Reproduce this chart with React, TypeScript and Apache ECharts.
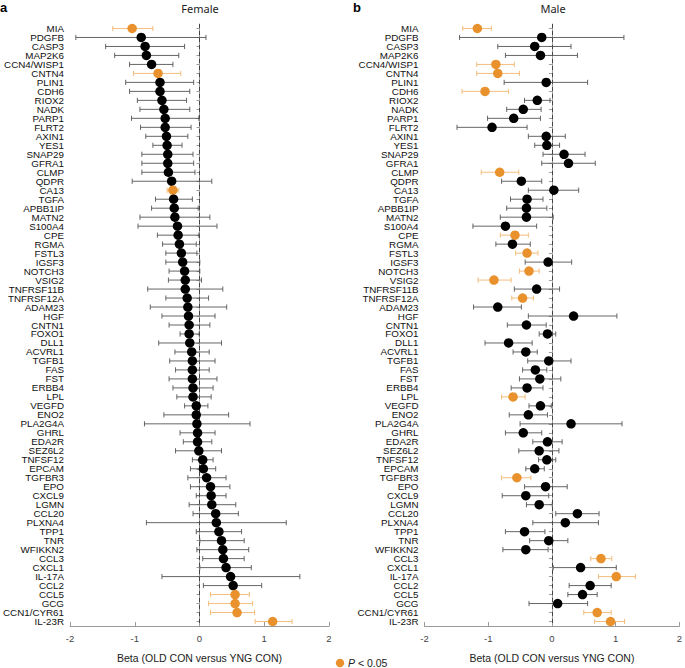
import React, { useEffect, useRef } from "react";
import * as echarts from "echarts";

const genes = [
  "MIA", "PDGFB", "CASP3", "MAP2K6", "CCN4/WISP1", "CNTN4", "PLIN1", "CDH6", "RIOX2", "NADK",
  "PARP1", "FLRT2", "AXIN1", "YES1", "SNAP29", "GFRA1", "CLMP", "QDPR", "CA13", "TGFA",
  "APBB1IP", "MATN2", "S100A4", "CPE", "RGMA", "FSTL3", "IGSF3", "NOTCH3", "VSIG2", "TNFRSF11B",
  "TNFRSF12A", "ADAM23", "HGF", "CNTN1", "FOXO1", "DLL1", "ACVRL1", "TGFB1", "FAS", "FST",
  "ERBB4", "LPL", "VEGFD", "ENO2", "PLA2G4A", "GHRL", "EDA2R", "SEZ6L2", "TNFSF12", "EPCAM",
  "TGFBR3", "EPO", "CXCL9", "LGMN", "CCL20", "PLXNA4", "TPP1", "TNR", "WFIKKN2", "CCL3",
  "CXCL1", "IL-17A", "CCL2", "CCL5", "GCG", "CCN1/CYR61", "IL-23R",
];

const femaleBeta = [
  -1.04, -0.90, -0.84, -0.82, -0.74, -0.64, -0.61, -0.61, -0.58, -0.55,
  -0.53, -0.53, -0.51, -0.50, -0.49, -0.49, -0.48, -0.43, -0.41, -0.40,
  -0.39, -0.38, -0.34, -0.33, -0.31, -0.28, -0.26, -0.23, -0.22, -0.22,
  -0.19, -0.18, -0.17, -0.16, -0.16, -0.15, -0.12, -0.11, -0.11, -0.11,
  -0.10, -0.10, -0.05, -0.05, -0.04, -0.03, -0.03, -0.01, 0.05, 0.06,
  0.11, 0.17, 0.18, 0.19, 0.25, 0.26, 0.30, 0.34, 0.36, 0.37,
  0.41, 0.48, 0.52, 0.55, 0.55, 0.58, 1.13,
];
const femaleLo = [
  -1.34, -1.91, -1.45, -1.31, -1.08, -1.02, -1.14, -1.08, -0.96, -0.92,
  -1.05, -0.91, -0.83, -0.72, -0.89, -0.89, -0.89, -1.04, -0.50, -0.68,
  -0.74, -0.92, -0.95, -0.65, -0.57, -0.52, -0.52, -0.47, -0.48, -0.80,
  -0.52, -0.76, -0.58, -0.47, -0.30, -0.63, -0.38, -0.46, -0.37, -0.47,
  -0.41, -0.35, -0.23, -0.55, -0.85, -0.30, -0.25, -0.37, -0.11, -0.14,
  -0.18, -0.14, -0.05, -0.16, -0.10, -0.82, -0.05, 0.005, -0.04, 0.05,
  0.005, -0.58, 0.06, 0.17, 0.14, 0.17, 0.86,
];
const femaleHi = [
  -0.72, 0.10, -0.23, -0.32, -0.41, -0.29, -0.09, -0.15, -0.20, -0.15,
  -0.01, -0.13, -0.18, -0.27, -0.10, -0.09, -0.07, 0.19, -0.32, -0.11,
  -0.02, 0.16, 0.27, -0.01, -0.05, -0.04, 0.005, 0.005, 0.03, 0.36,
  0.14, 0.42, 0.24, 0.16, -0.005, 0.34, 0.15, 0.24, 0.15, 0.27,
  0.21, 0.18, 0.13, 0.45, 0.78, 0.24, 0.19, 0.34, 0.21, 0.25,
  0.41, 0.47, 0.41, 0.56, 0.60, 1.34, 0.65, 0.69, 0.76, 0.69,
  0.80, 1.55, 0.96, 0.77, 0.82, 0.85, 1.43,
];
const femaleSig = [
  1, 0, 0, 0, 0, 1, 0, 0, 0, 0,
  0, 0, 0, 0, 0, 0, 0, 0, 1, 0,
  0, 0, 0, 0, 0, 0, 0, 0, 0, 0,
  0, 0, 0, 0, 0, 0, 0, 0, 0, 0,
  0, 0, 0, 0, 0, 0, 0, 0, 0, 0,
  0, 0, 0, 0, 0, 0, 0, 0, 0, 0,
  0, 0, 0, 1, 1, 1, 1,
];

const maleBeta = [
  -1.17, -0.16, -0.27, -0.18, -0.88, -0.85, -0.09, -1.05, -0.23, -0.45,
  -0.60, -0.94, -0.09, -0.08, 0.19, 0.26, -0.82, -0.48, 0.03, -0.39,
  -0.40, -0.40, -0.73, -0.58, -0.62, -0.39, -0.06, -0.36, -0.91, -0.24,
  -0.46, -0.85, 0.34, -0.40, -0.07, -0.68, -0.41, -0.05, -0.26, -0.19,
  -0.39, -0.61, -0.18, -0.37, 0.30, -0.45, -0.07, -0.20, -0.08, -0.27,
  -0.55, -0.10, -0.41, -0.20, 0.40, 0.21, -0.43, -0.05, -0.41, 0.77,
  0.45, 1.01, 0.60, 0.48, 0.09, 0.71, 0.92,
];
const maleLo = [
  -1.40, -1.45, -0.85, -0.73, -1.18, -1.18, -0.75, -1.41, -0.43, -0.71,
  -1.01, -1.49, -0.37, -0.27, -0.14, -0.16, -1.11, -0.79, -0.37, -0.65,
  -0.71, -0.81, -1.24, -0.81, -0.88, -0.57, -0.42, -0.51, -1.16, -0.59,
  -0.63, -1.23, -0.37, -0.70, -0.20, -1.05, -0.61, -0.38, -0.46, -0.51,
  -0.64, -0.79, -0.36, -0.67, -0.50, -0.73, -0.30, -0.52, -0.21, -0.41,
  -0.79, -0.43, -0.78, -0.40, 0.06, -0.30, -0.73, -0.35, -0.77, 0.61,
  0.02, 0.73, 0.27, 0.25, -0.36, 0.50, 0.67,
];
const maleHi = [
  -0.95, 1.13, 0.30, 0.40, -0.59, -0.51, 0.56, -0.68, -0.03, -0.17,
  -0.18, -0.39, 0.21, 0.12, 0.52, 0.68, -0.52, -0.16, 0.42, -0.14,
  -0.08, 0.02, -0.24, -0.37, -0.34, -0.22, 0.31, -0.20, -0.64, 0.12,
  -0.29, -0.48, 1.02, -0.09, 0.06, -0.31, -0.23, 0.30, -0.08, 0.14,
  -0.14, -0.42, -0.01, -0.07, 1.10, -0.16, 0.16, 0.11, 0.06, -0.12,
  -0.33, 0.24, -0.05, 0.005, 0.74, 0.73, -0.11, 0.25, -0.06, 0.94,
  1.01, 1.31, 0.93, 0.71, 0.56, 0.93, 1.14,
];
const maleSig = [
  1, 0, 0, 0, 1, 1, 0, 1, 0, 0,
  0, 0, 0, 0, 0, 0, 1, 0, 0, 0,
  0, 0, 0, 1, 0, 1, 0, 1, 1, 0,
  1, 0, 0, 0, 0, 0, 0, 0, 0, 0,
  0, 1, 0, 0, 0, 0, 0, 0, 0, 0,
  1, 0, 0, 0, 0, 0, 0, 0, 0, 1,
  0, 1, 0, 0, 0, 1, 1,
];

const xTicks = [-2, -1, 0, 1, 2];

const ORANGE = "#E8912D";
const ORANGE_LIGHT = "#F3B76E";
const BLACK = "#000000";
const BAR_GRAY = "#555555";
const AXIS_GRAY = "#9a9a9a";
const FONT = "Liberation Sans";

function buildPanel(idx: number, beta: number[], lo: number[], hi: number[], sig: number[]) {
  const barData = genes.map((_, i) => [lo[i], hi[i], i, sig[i]]);
  const pointData = genes.map((_, i) => ({
    value: [beta[i], i],
    itemStyle: { color: sig[i] ? ORANGE : BLACK, opacity: 1 },
  }));
  return [
    {
      type: "custom",
      xAxisIndex: idx,
      yAxisIndex: idx,
      encode: { x: [0, 1], y: 2 },
      data: barData,
      z: 2,
      renderItem: (params: any, api: any) => {
        const yv = api.value(2);
        const p1 = api.coord([api.value(0), yv]);
        const p2 = api.coord([api.value(1), yv]);
        const color = api.value(3) ? ORANGE_LIGHT : BAR_GRAY;
        const cap = 2.6;
        const style = { stroke: color, lineWidth: 0.9 };
        return {
          type: "group",
          children: [
            { type: "line", shape: { x1: p1[0], y1: p1[1], x2: p2[0], y2: p2[1] }, style },
            { type: "line", shape: { x1: p1[0], y1: p1[1] - cap, x2: p1[0], y2: p1[1] + cap }, style },
            { type: "line", shape: { x1: p2[0], y1: p2[1] - cap, x2: p2[0], y2: p2[1] + cap }, style },
          ],
        };
      },
    },
    {
      type: "scatter",
      xAxisIndex: idx,
      yAxisIndex: idx,
      data: pointData,
      symbolSize: 9.5,
      itemStyle: { opacity: 1 },
      z: 4,
      markLine: {
        silent: true,
        symbol: ["none", "none"],
        label: { show: false },
        lineStyle: { type: [4, 3], color: "#444", width: 1 },
        data: [{ xAxis: 0 }],
        z: 1,
      },
    },
  ];
}

export default function App() {
  const ref = useRef<HTMLDivElement>(null);
  useEffect(() => {
    document.body.style.margin = "0";
    if (!ref.current) return;
    const chart = echarts.init(ref.current, undefined, { renderer: "svg" });
    const grids = [
      { left: 70, width: 259, top: 24, height: 610 },
      { left: 424.5, width: 258, top: 24, height: 610 },
    ];
    const xAxisBase = (i: number) => ({
      type: "value",
      gridIndex: i,
      min: xTicks[0],
      max: xTicks[xTicks.length - 1],
      interval: 1,
      splitLine: { show: false },
      axisLine: { show: true, onZero: false, lineStyle: { color: AXIS_GRAY, width: 1 } },
      axisTick: { show: true, inside: true, length: 4, lineStyle: { color: AXIS_GRAY } },
      axisLabel: { fontFamily: FONT, fontSize: 9.5, color: "#444", margin: 7 },
      name: "Beta (OLD CON versus YNG CON)",
      nameLocation: "middle",
      nameGap: 26,
      nameTextStyle: { fontFamily: FONT, fontSize: 10.5, color: "#222" },
    });
    const yAxisBase = (i: number) => ({
      type: "category",
      gridIndex: i,
      data: genes,
      inverse: true,
      axisLine: { show: true, lineStyle: { color: AXIS_GRAY, width: 1 } },
      axisTick: { show: true, alignWithLabel: true, length: 3, lineStyle: { color: AXIS_GRAY } },
      axisLabel: {
        fontFamily: FONT, fontSize: 9.8, lineHeight: 9, color: "#111", margin: 6, interval: 0,
      },
      splitLine: { show: false },
    });
    chart.setOption({
      animation: false,
      grid: grids,
      xAxis: [xAxisBase(0), xAxisBase(1)],
      yAxis: [yAxisBase(0), yAxisBase(1)],
      series: [
        ...buildPanel(0, femaleBeta, femaleLo, femaleHi, femaleSig),
        ...buildPanel(1, maleBeta, maleLo, maleHi, maleSig),
      ],
      graphic: [
        { type: "text", left: 0, top: 1, style: { text: "a", font: `bold 13px ${FONT}`, fill: "#000" } },
        { type: "text", left: 353, top: 1, style: { text: "b", font: `bold 13px ${FONT}`, fill: "#000" } },
        {
          type: "text", x: 200, y: 8,
          style: { text: "Female", font: `11px 'Noto Sans'`, fill: "#222", align: "center", verticalAlign: "middle" },
        },
        {
          type: "text", x: 553, y: 8,
          style: { text: "Male", font: `11px 'Noto Sans'`, fill: "#222", align: "center", verticalAlign: "middle" },
        },
        { type: "circle", shape: { cx: 340, cy: 663, r: 4.2 }, style: { fill: ORANGE } },
        {
          type: "text", x: 348, y: 663,
          style: {
            text: "{i|P} < 0.05",
            verticalAlign: "middle",
            fill: "#222",
            font: `10.5px ${FONT}`,
            rich: {
              i: { fontStyle: "italic", fontFamily: FONT, fontSize: 10.5, fill: "#222" },
            },
          },
        },
      ],
    });
    return () => chart.dispose();
  }, []);
  return <div ref={ref} style={{ width: 685, height: 668 }} />;
}
